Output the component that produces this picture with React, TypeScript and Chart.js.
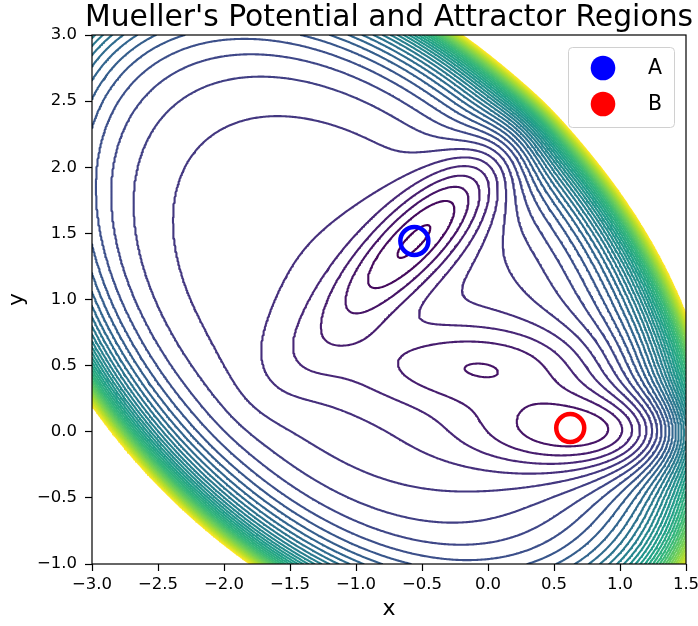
import { useEffect, useRef } from "react";
import { Chart, registerables } from "chart.js";

Chart.register(...registerables);

// ---- Mueller potential parameters (sum of four Gaussian-like terms) ----
const POT_A = [-200, -100, -170, 15];
const POT_a = [-1, -1, -6.5, 0.7];
const POT_b = [0, 0, 11, 0.6];
const POT_c = [-10, -10, -6.5, 0.7];
const POT_X0 = [1, 0, -0.5, -1];
const POT_Y0 = [0, 0.5, 1.5, 1];

// ---- contour levels ----
const LEVELS = [
  -141, -110, -79, -48, -17, 14, 45, 76, 107, 138, 169, 200, 231, 262, 293, 324,
  355, 386, 417, 448, 479, 510, 541, 572, 603, 634, 665, 696, 727, 758, 789, 820,
  851, 882, 913, 944, 975, 1006,
];

// ---- axes ----
const X_MIN = -3;
const X_MAX = 1.5;
const Y_MIN = -1;
const Y_MAX = 3;
const X_TICKS = [-3, -2.5, -2, -1.5, -1, -0.5, 0, 0.5, 1, 1.5];
const Y_TICKS = [-1, -0.5, 0, 0.5, 1, 1.5, 2, 2.5, 3];
const GRID_NX = 451;
const GRID_NY = 401;

// ---- attractors ----
const ATTRACTOR_NAMES = ["A", "B"];
const ATTRACTOR_X = [-0.558, 0.623];
const ATTRACTOR_Y = [1.442, 0.028];
const ATTRACTOR_COLORS = ["#0000ff", "#ff0000"];

const TITLE = "Mueller's Potential and Attractor Regions";
const X_LABEL = "x";
const Y_LABEL = "y";

const VIRIDIS = [
  "#440154", "#482878", "#3e4989", "#31688e", "#26828e",
  "#1f9e89", "#35b779", "#6ece58", "#b5de2b", "#fde725",
];

const FONT = "'DejaVu Sans', 'Liberation Sans', sans-serif";

function hexToRgb(h: string) {
  return [parseInt(h.slice(1, 3), 16), parseInt(h.slice(3, 5), 16), parseInt(h.slice(5, 7), 16)];
}

function viridis(t: number) {
  const tt = Math.max(0, Math.min(1, t)) * (VIRIDIS.length - 1);
  const i = Math.min(Math.floor(tt), VIRIDIS.length - 2);
  const f = tt - i;
  const a = hexToRgb(VIRIDIS[i]);
  const b = hexToRgb(VIRIDIS[i + 1]);
  const c = a.map((v, k) => Math.round(v + (b[k] - v) * f));
  return `rgb(${c[0]},${c[1]},${c[2]})`;
}

function mueller(x: number, y: number) {
  let v = 0;
  for (let k = 0; k < POT_A.length; k++) {
    const dx = x - POT_X0[k];
    const dy = y - POT_Y0[k];
    v += POT_A[k] * Math.exp(POT_a[k] * dx * dx + POT_b[k] * dx * dy + POT_c[k] * dy * dy);
  }
  return v;
}

type P = { x: number | null; y: number | null };

function buildGrid() {
  const xs = new Float64Array(GRID_NX);
  const ys = new Float64Array(GRID_NY);
  for (let i = 0; i < GRID_NX; i++) xs[i] = X_MIN + ((X_MAX - X_MIN) * i) / (GRID_NX - 1);
  for (let j = 0; j < GRID_NY; j++) ys[j] = Y_MIN + ((Y_MAX - Y_MIN) * j) / (GRID_NY - 1);
  const g = new Float64Array(GRID_NX * GRID_NY);
  for (let j = 0; j < GRID_NY; j++)
    for (let i = 0; i < GRID_NX; i++) g[j * GRID_NX + i] = mueller(xs[i], ys[j]);
  return { xs, ys, g };
}

function contour(level: number, xs: Float64Array, ys: Float64Array, g: Float64Array): P[] {
  const NX = GRID_NX;
  const NY = GRID_NY;
  const segA: number[] = [];
  const segB: number[] = [];
  const add = (a: number, b: number) => {
    segA.push(a);
    segB.push(b);
  };
  for (let j = 0; j < NY - 1; j++) {
    for (let i = 0; i < NX - 1; i++) {
      const v0 = g[j * NX + i];
      const v1 = g[j * NX + i + 1];
      const v2 = g[(j + 1) * NX + i + 1];
      const v3 = g[(j + 1) * NX + i];
      const c = (v0 > level ? 1 : 0) | (v1 > level ? 2 : 0) | (v2 > level ? 4 : 0) | (v3 > level ? 8 : 0);
      if (c === 0 || c === 15) continue;
      const e0 = (j * NX + i) * 2;
      const e1 = (j * NX + i + 1) * 2 + 1;
      const e2 = ((j + 1) * NX + i) * 2;
      const e3 = (j * NX + i) * 2 + 1;
      switch (c) {
        case 1: case 14: add(e3, e0); break;
        case 2: case 13: add(e0, e1); break;
        case 3: case 12: add(e3, e1); break;
        case 4: case 11: add(e1, e2); break;
        case 6: case 9: add(e0, e2); break;
        case 7: case 8: add(e3, e2); break;
        case 5: {
          const ctr = (v0 + v1 + v2 + v3) / 4;
          if (ctr > level) { add(e0, e1); add(e2, e3); } else { add(e3, e0); add(e1, e2); }
          break;
        }
        case 10: {
          const ctr = (v0 + v1 + v2 + v3) / 4;
          if (ctr > level) { add(e3, e0); add(e1, e2); } else { add(e0, e1); add(e2, e3); }
          break;
        }
      }
    }
  }
  const n = segA.length;
  const adj1 = new Int32Array(NX * NY * 2).fill(-1);
  const adj2 = new Int32Array(NX * NY * 2).fill(-1);
  const link = (k: number, s: number) => {
    if (adj1[k] < 0) adj1[k] = s;
    else adj2[k] = s;
  };
  for (let s = 0; s < n; s++) {
    link(segA[s], s);
    link(segB[s], s);
  }
  const used = new Uint8Array(n);
  const nextSeg = (k: number) => {
    const a = adj1[k];
    if (a >= 0 && !used[a]) return a;
    const b = adj2[k];
    if (b >= 0 && !used[b]) return b;
    return -1;
  };
  const pt = (key: number): P => {
    const dir = key & 1;
    const idx = key >> 1;
    const i = idx % NX;
    const j = (idx - i) / NX;
    const va = g[idx];
    if (dir === 0) {
      const vb = g[idx + 1];
      const t = (level - va) / (vb - va);
      return { x: xs[i] + t * (xs[i + 1] - xs[i]), y: ys[j] };
    }
    const vb = g[idx + NX];
    const t = (level - va) / (vb - va);
    return { x: xs[i], y: ys[j] + t * (ys[j + 1] - ys[j]) };
  };
  const out: P[] = [];
  for (let s = 0; s < n; s++) {
    if (used[s]) continue;
    used[s] = 1;
    const fwd = [segA[s], segB[s]];
    let cur = segB[s];
    for (;;) {
      const t = nextSeg(cur);
      if (t < 0) break;
      used[t] = 1;
      cur = segA[t] === cur ? segB[t] : segA[t];
      fwd.push(cur);
    }
    const back: number[] = [];
    cur = segA[s];
    for (;;) {
      const t = nextSeg(cur);
      if (t < 0) break;
      used[t] = 1;
      cur = segA[t] === cur ? segB[t] : segA[t];
      back.push(cur);
    }
    back.reverse();
    for (const k of back) out.push(pt(k));
    for (const k of fwd) out.push(pt(k));
    out.push({ x: null, y: null });
  }
  return out;
}

const fmt = (v: number) => {
  const s = (Math.abs(v) < 1e-9 ? 0 : v).toFixed(1);
  return s.replace("-", "\u2212");
};

const framePlugin = {
  id: "frame",
  afterDatasetsDraw(chart: any) {
    const { ctx, chartArea: a } = chart;
    ctx.save();
    ctx.strokeStyle = "#000";
    ctx.lineWidth = 1.2;
    ctx.strokeRect(a.left, a.top, a.right - a.left, a.bottom - a.top);
    ctx.restore();
  },
};

const titlePlugin = {
  id: "figTitle",
  afterDraw(chart: any) {
    const { ctx, chartArea: a } = chart;
    ctx.save();
    ctx.fillStyle = "#000";
    ctx.font = `29.8px ${FONT}`;
    ctx.textAlign = "center";
    ctx.textBaseline = "alphabetic";
    ctx.fillText(TITLE, (a.left + a.right) / 2, 26);
    ctx.restore();
  },
};

const legendPlugin = {
  id: "attractorLegend",
  afterDraw(chart: any) {
    const { ctx, chartArea: a } = chart;
    const w = 106;
    const h = 80;
    const x0 = a.right - 12 - w;
    const y0 = a.top + 12;
    ctx.save();
    ctx.beginPath();
    ctx.roundRect(x0 + 0.5, y0 + 0.5, w, h, 4);
    ctx.fillStyle = "rgba(255,255,255,0.8)";
    ctx.fill();
    ctx.strokeStyle = "#d0d0d0";
    ctx.lineWidth = 1;
    ctx.stroke();
    ctx.font = `20.5px ${FONT}`;
    ctx.textBaseline = "middle";
    ctx.textAlign = "left";
    ATTRACTOR_NAMES.forEach((name, i) => {
      const cy = y0 + 21 + i * 36;
      ctx.beginPath();
      ctx.arc(x0 + 35, cy, 12.3, 0, Math.PI * 2);
      ctx.fillStyle = ATTRACTOR_COLORS[i];
      ctx.fill();
      ctx.fillStyle = "#000";
      ctx.fillText(name, x0 + 80, cy + 1);
    });
    ctx.restore();
  },
};

export default function App() {
  const ref = useRef<HTMLCanvasElement | null>(null);
  useEffect(() => {
    if (!ref.current) return;
    const { xs, ys, g } = buildGrid();
    const lo = LEVELS[0];
    const hi = LEVELS[LEVELS.length - 1];
    const contourSets = LEVELS.map((L) => ({
      label: `V=${L}`,
      data: contour(L, xs, ys, g),
      showLine: true,
      pointRadius: 0,
      borderColor: viridis((L - lo) / (hi - lo)),
      borderWidth: 2.1,
      borderJoinStyle: "round" as const,
      borderCapStyle: "round" as const,
      spanGaps: false,
      fill: false,
      clip: 0,
    }));
    const markerSets = ATTRACTOR_NAMES.map((name, i) => ({
      label: name,
      data: [{ x: ATTRACTOR_X[i], y: ATTRACTOR_Y[i] }],
      showLine: false,
      pointRadius: 14,
      pointHoverRadius: 14,
      pointBorderWidth: 4.5,
      pointBorderColor: ATTRACTOR_COLORS[i],
      pointBackgroundColor: "rgba(0,0,0,0)",
      clip: false as any,
    }));
    const tickFont = { family: FONT, size: 16.5 };
    const chart = new Chart(ref.current, {
      type: "scatter",
      data: { datasets: [...markerSets, ...contourSets] as any },
      options: {
        responsive: false,
        animation: false,
        events: [],
        layout: { autoPadding: false, padding: { top: 35, right: 12, left: 0, bottom: 0 } },
        plugins: { legend: { display: false }, tooltip: { enabled: false }, title: { display: false } },
        scales: {
          x: {
            type: "linear",
            min: X_MIN,
            max: X_MAX,
            afterBuildTicks: (s: any) => {
              s.ticks = X_TICKS.map((v) => ({ value: v }));
            },
            afterFit: (s: any) => {
              s.height = 62;
              s.paddingLeft = 0;
              s.paddingRight = 0;
            },
            ticks: { callback: (v: any) => fmt(Number(v)), font: tickFont, color: "#000", padding: 4, maxRotation: 0, autoSkip: false },
            grid: { display: true, drawOnChartArea: false, drawTicks: true, tickLength: 7, color: "#000", tickWidth: 1.2 },
            border: { display: false },
            title: { display: true, text: X_LABEL, font: { family: FONT, size: 22 }, color: "#000", padding: { top: 0, bottom: 4 } },
          },
          y: {
            type: "linear",
            min: Y_MIN,
            max: Y_MAX,
            afterBuildTicks: (s: any) => {
              s.ticks = Y_TICKS.map((v) => ({ value: v }));
            },
            afterFit: (s: any) => {
              s.width = 92;
              s.paddingTop = 0;
              s.paddingBottom = 0;
            },
            ticks: { callback: (v: any) => fmt(Number(v)), font: tickFont, color: "#000", padding: 8, autoSkip: false },
            grid: { display: true, drawOnChartArea: false, drawTicks: true, tickLength: 7, color: "#000", tickWidth: 1.2 },
            border: { display: false },
            title: { display: true, text: Y_LABEL, font: { family: FONT, size: 22 }, color: "#000", padding: { top: 4, bottom: 0 } },
          },
        },
      },
      plugins: [framePlugin, titlePlugin, legendPlugin],
    });
    return () => chart.destroy();
  }, []);
  return (
    <div style={{ position: "absolute", left: 0, top: 0, width: 698, height: 626, background: "#fff" }}>
      <canvas ref={ref} width={698} height={626} />
    </div>
  );
}
